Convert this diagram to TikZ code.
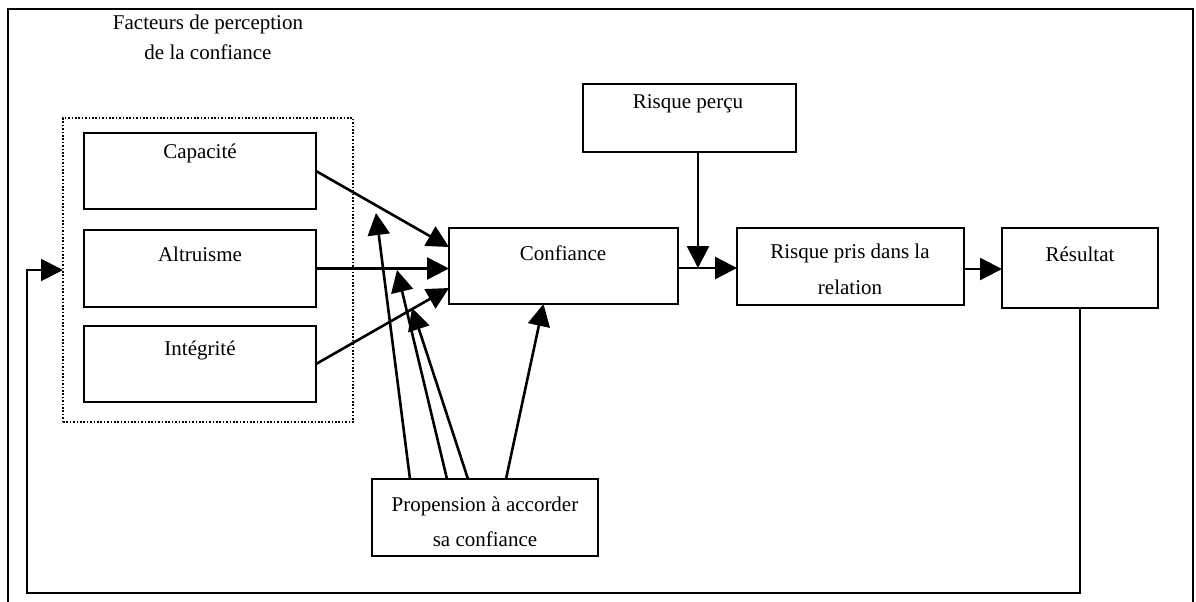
\documentclass[tikz,border=0pt]{standalone}
\usepackage{fontspec}
\setmainfont{Liberation Serif}
\usetikzlibrary{arrows.meta}
\begin{document}
\begin{tikzpicture}[x=0.5pt,y=-0.5pt,
  box/.style={draw, line width=1pt, rectangle, inner sep=0pt, outer sep=0pt, anchor=north west},
  grp/.style={draw, line width=0.8pt, dash pattern=on 0.8pt off 0.9pt, rectangle, inner sep=0pt, outer sep=0pt, anchor=north west},
  txt/.style={inner sep=0pt, anchor=base, font=\fontsize{10.5}{17.5}\selectfont},
  conn/.style={line width=1.3pt, -{Triangle[length=11pt,width=11pt]}},
  loopline/.style={line width=1pt, -{Triangle[length=11pt,width=11pt]}}
]
\useasboundingbox (0,0) rectangle (1196,601);
% outer frame
\draw[line width=1pt] (8,610) -- (8,9) -- (1193,9) -- (1193,610);

% title
\node[txt] (t1) at (208,29) {Facteurs de perception};
\node[txt] (t2) at (208,59) {de la confiance};

% group
\node[grp, minimum width=145pt, minimum height=152pt] (fac) at (63,118) {};

% boxes
\node[box, minimum width=116pt, minimum height=38pt] (cap) at (84,133) {};
\node[box, minimum width=116pt, minimum height=38.5pt] (alt) at (84,230) {};
\node[box, minimum width=116pt, minimum height=38pt] (int) at (84,326) {};
\node[box, minimum width=114.5pt, minimum height=38pt] (conf) at (449,228) {};
\node[box, minimum width=106.5pt, minimum height=34pt] (rperc) at (583,84) {};
\node[box, minimum width=113.5pt, minimum height=38.5pt] (rp) at (737,228) {};
\node[box, minimum width=78pt, minimum height=40pt] (res) at (1002,228) {};
\node[box, minimum width=113pt, minimum height=38.5pt] (prop) at (372,479) {};

% texts
\node[txt] (tcap) at (200,158) {Capacité};
\node[txt] (talt) at (200,261) {Altruisme};
\node[txt] (tint) at (200,355) {Intégrité};
\node[txt] (tconf) at (563,260) {Confiance};
\node[txt] (trperc) at (688,108) {Risque perçu};
\node[txt] (trp1) at (850,258) {Risque pris dans la};
\node[txt] (trp2) at (850,294) {relation};
\node[txt] (tres) at (1080,261) {Résultat};
\node[txt] (tp1) at (485,511) {Propension à accorder};
\node[txt] (tp2) at (485,546) {sa confiance};

% factor arrows
\draw[conn] (cap.east) -- ([yshift=9.5pt]conf.west);
\draw[conn] (alt.east) -- (conf.west |- alt.east);
\draw[conn] (int.east) -- ([yshift=-11pt]conf.west);

% main chain
\coordinate (j) at (698,268);
\draw[conn] (conf.east |- j) -- (rp.west |- j);
\draw[conn] (j |- rperc.south) -- (j);
\draw[conn] (rp.east |- 0,269) -- (res.west |- 0,269);

% feedback loop
\coordinate (lb) at (27,593);
\draw[loopline] (res.south) |- (lb) |- (fac.west);

% propensity arrows
\coordinate (a1) at (376,213);
\coordinate (a2) at (397,270);
\coordinate (a3) at (412,308);
\draw[conn] ([xshift=19pt]prop.north west) -- (a1);
\draw[conn] ([xshift=37.5pt]prop.north west) -- (a2);
\draw[conn] ([xshift=48pt]prop.north west) -- (a3);
\draw[conn] ([xshift=67pt]prop.north west) -- ([xshift=-10pt]conf.south);
\end{tikzpicture}
\end{document}
